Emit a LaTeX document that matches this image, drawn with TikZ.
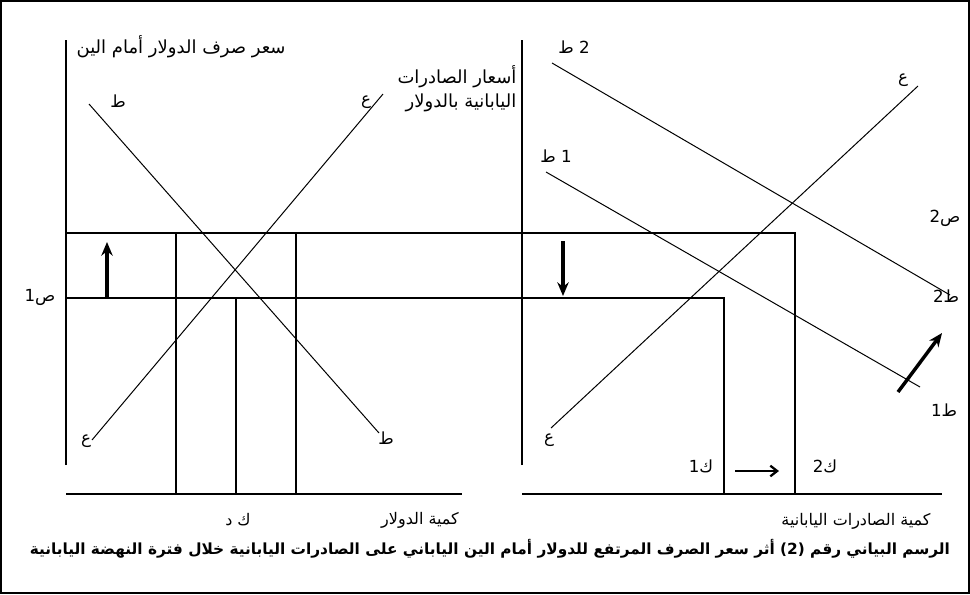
\documentclass[tikz,border=0pt]{standalone}
\usepackage{fontspec}
\setmainfont{DejaVu Sans}
\newfontfamily\arabicfont[Script=Arabic]{DejaVu Sans}
\TeXXeTstate=1
\usepackage{tikz}
\usetikzlibrary{arrows.meta, positioning}

\begin{document}
\begin{tikzpicture}[
  x=0.75pt, y=-0.75pt,
  axis/.style={line width=1.4pt},
  curve/.style={line width=0.75pt},
  guide/.style={line width=1.1pt},
  shiftarr/.style={-{Stealth[length=3.6mm, width=3mm]}, line width=2.6pt},
  smallarr/.style={-{Straight Barb[length=1.8mm, width=2.8mm]}, line width=1.7pt},
  lbl/.style={font=\arabicfont\fontsize{12.5}{14}\selectfont, inner sep=1pt},
  title/.style={font=\arabicfont\fontsize{13.5}{18}\selectfont, inner sep=1pt},
  xtitle/.style={font=\arabicfont\fontsize{12}{14}\selectfont, inner sep=1pt},
  caption/.style={font=\arabicfont\bfseries\fontsize{11.5}{13}\selectfont, inner sep=1pt}
]
\useasboundingbox (0,0) rectangle (970,594);

% ===== Frame =====
\draw[line width=1.2pt] (1,1) rectangle (969,593);

% ===== Left panel: axes =====
\coordinate (lo)  at (66,494);
\coordinate (ltop) at (66,40);
\coordinate (lend) at (462,494);
\draw[axis] (66,465) -- (ltop);
\draw[axis] (lo) -- (lend);

% ===== Right panel: axes =====
\coordinate (ro)  at (522,494);
\coordinate (rtop) at (522,40);
\coordinate (rend) at (942,494);
\draw[axis] (522,465) -- (rtop);
\draw[axis] (ro) -- (rend);

% ===== Price levels across both panels =====
\coordinate (p2a) at (66,233);
\coordinate (p2b) at (795,233);
\coordinate (p1a) at (66,298);
\coordinate (p1b) at (724,298);
\draw[guide] (p2a) -- (p2b) -- (795,494);
\draw[guide] (p1a) -- (p1b) -- (724,494);

% quantity drop lines (left)
\draw[guide] (176,233) -- (176,494);
\draw[guide] (236,298) -- (236,494);
\draw[guide] (296,233) -- (296,494);

% ===== Left panel: supply and demand =====
\coordinate (ls1) at (92,440);
\coordinate (ls2) at (383,94);
\coordinate (ld1) at (89,104);
\coordinate (ld2) at (379,433);
\draw[curve] (ls1) -- (ls2);
\draw[curve] (ld1) -- (ld2);

\node[lbl] (ls1lbl) at (86,441) {ع};
\node[lbl] (ls2lbl) at (366,102) {ع};
\node[lbl] (ld1lbl) at (118,101) {ط};
\node[lbl] (ld2lbl) at (386,438) {ط};

% ===== Right panel: supply and two demands =====
\coordinate (rs1) at (551,428);
\coordinate (rs2) at (918,86);
\coordinate (rda1) at (546,172);
\coordinate (rda2) at (920,387);
\coordinate (rdb1) at (552,63);
\coordinate (rdb2) at (950,295);
\draw[curve] (rs1) -- (rs2);
\draw[curve] (rda1) -- (rda2);
\draw[curve] (rdb1) -- (rdb2);

\node[lbl] (rs1lbl) at (549,440) {ع};
\node[lbl] (rs2lbl) at (903,80) {ع};
\node[lbl] (rdb1lbl) at (574,47) {\beginR 2 ط\endR};
\node[lbl] (rda1lbl) at (556,156) {\beginR 1 ط\endR};
\node[lbl] (rdb2lbl) at (946,296) {ط2};
\node[lbl] (rda2lbl) at (944,410) {ط1};
\node[lbl] (p2lbl) at (945,218) {ص2};
\node[lbl] (p1lbl) at (40,297) {ص1};

% ===== Shift arrows =====
\coordinate (upa) at (107,298);
\coordinate (upb) at (107,242);
\coordinate (dna) at (563,241);
\coordinate (dnb) at (563,296);
\coordinate (dga) at (898,392);
\coordinate (dgb) at (942,333);
\draw[shiftarr] (upa) -- (upb);
\draw[shiftarr] (dna) -- (dnb);
\draw[shiftarr] (dga) -- (dgb);

% ===== Quantities =====
\node[lbl] (q1lbl) at (701,466) {ك1};
\node[lbl] (q2lbl) at (825,466) {ك2};
\coordinate (qa) at (735,471);
\coordinate (qb) at (779,471);
\draw[smallarr] (qa) -- (qb);

% ===== Axis titles =====
\node[title, anchor=west] (lytitle) at (75,47) {\beginR سعر صرف الدولار أمام الين\endR};
\node[title, anchor=north east, align=right] (rytitle) at (518,64)
     {\beginR أسعار الصادرات\endR\\\beginR اليابانية بالدولار\endR};
\node[xtitle] (kdlbl) at (238,520) {\beginR ك د\endR};
\node[xtitle] (lxtitle) at (420,520) {\beginR كمية الدولار\endR};
\node[xtitle] (rxtitle) at (856,521) {\beginR كمية الصادرات اليابانية\endR};

% ===== Caption =====
\node[caption] (cap) at (490,549)
     {\beginR الرسم البياني رقم (2) أثر سعر الصرف المرتفع للدولار أمام الين الياباني على الصادرات اليابانية خلال فترة النهضة اليابانية\endR};

\end{tikzpicture}
\end{document}
